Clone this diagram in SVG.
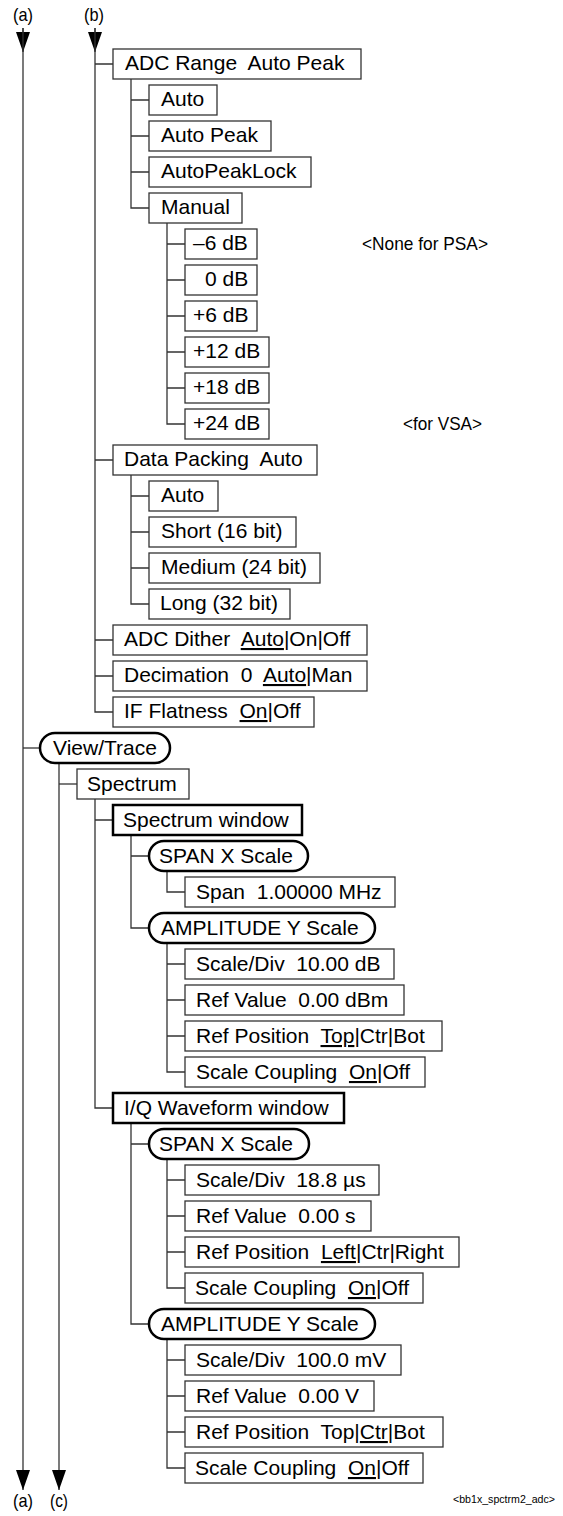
<svg xmlns="http://www.w3.org/2000/svg" width="563" height="1516" viewBox="0 0 563 1516">
<style>
.b{fill:#fff;stroke:#333;stroke-width:1.3}
.k{fill:#fff;stroke:#000;stroke-width:2.5}
.c{fill:none;stroke:#333;stroke-width:1.3}
text{font-family:"Liberation Sans",Arial,Helvetica,sans-serif;fill:#000;white-space:pre}
.l{font-size:21px}
.n{font-family:"Liberation Sans Narrow","Liberation Sans",Arial,sans-serif;font-size:19px}
.u{text-decoration:underline}
</style>
<defs>
<marker id="ah" viewBox="0 0 20 14" refX="20" refY="7" markerWidth="20" markerHeight="14" markerUnits="userSpaceOnUse" orient="auto">
<path d="M0,0 L20,7 L0,14 Z" fill="#000"/>
</marker>
</defs>
<g id="connectors">
<path class="c" d="M23,28 V52" marker-end="url(#ah)"/>
<path class="c" d="M23,28 V1490" marker-end="url(#ah)"/>
<path class="c" d="M23,748 H40"/>
<path class="c" d="M95,28 V52" marker-end="url(#ah)"/>
<path class="c" d="M95,28 V712 H113 M95,64 H113 M95,460 H113 M95,640 H113 M95,676 H113"/>
<path class="c" d="M131,79 V208 H149 M131,100 H149 M131,136 H149 M131,172 H149"/>
<path class="c" d="M167,223 V424 H185 M167,244 H185 M167,280 H185 M167,316 H185 M167,352 H185 M167,388 H185"/>
<path class="c" d="M131,475 V604 H149 M131,496 H149 M131,532 H149 M131,568 H149"/>
<path class="c" d="M59,763 V1490" marker-end="url(#ah)"/>
<path class="c" d="M59,784 H77"/>
<path class="c" d="M95,799 V1108 H113 M95,820 H113"/>
<path class="c" d="M131,835 V928 H149 M131,856 H149"/>
<path class="c" d="M167,871 V892 H185"/>
<path class="c" d="M167,943 V1072 H185 M167,964 H185 M167,1000 H185 M167,1036 H185"/>
<path class="c" d="M131,1123 V1324 H149 M131,1144 H149"/>
<path class="c" d="M167,1159 V1288 H185 M167,1180 H185 M167,1216 H185 M167,1252 H185"/>
<path class="c" d="M167,1339 V1468 H185 M167,1360 H185 M167,1396 H185 M167,1432 H185"/>
</g>
<g id="labels">
<text class="n" x="13" y="21" textLength="20" lengthAdjust="spacingAndGlyphs">(a)</text>
<text class="n" x="84" y="21" textLength="20" lengthAdjust="spacingAndGlyphs">(b)</text>
<text class="n" x="13" y="1507" textLength="20" lengthAdjust="spacingAndGlyphs">(a)</text>
<text class="n" x="50" y="1507" textLength="18" lengthAdjust="spacingAndGlyphs">(c)</text>
<text class="n" x="362" y="250" textLength="126" lengthAdjust="spacingAndGlyphs">&lt;None for PSA&gt;</text>
<text class="n" x="403" y="430" textLength="79" lengthAdjust="spacingAndGlyphs">&lt;for VSA&gt;</text>
<text class="n" x="453" y="1503" style="font-size:11px" textLength="102" lengthAdjust="spacingAndGlyphs">&lt;bb1x_spctrm2_adc&gt;</text>
</g>
<g id="adc-range"><rect class="b" x="113" y="49" width="248" height="30"/><text class="l" x="125" y="70">ADC Range  Auto Peak</text></g>
<g id="adc-auto"><rect class="b" x="149" y="85" width="68" height="30"/><text class="l" x="161" y="106">Auto</text></g>
<g id="adc-autopeak"><rect class="b" x="149" y="121" width="122" height="30"/><text class="l" x="161" y="142">Auto Peak</text></g>
<g id="adc-autopeaklock"><rect class="b" x="149" y="157" width="162" height="30"/><text class="l" x="161" y="178">AutoPeakLock</text></g>
<g id="adc-manual"><rect class="b" x="149" y="193" width="93" height="30"/><text class="l" x="161" y="214">Manual</text></g>
<g id="db-m6"><rect class="b" x="185" y="229" width="72" height="30"/><text class="l" x="193" y="250">–6 dB</text></g>
<g id="db-0"><rect class="b" x="185" y="265" width="72" height="30"/><text class="l" x="205" y="286">0 dB</text></g>
<g id="db-p6"><rect class="b" x="185" y="301" width="72" height="30"/><text class="l" x="193" y="322">+6 dB</text></g>
<g id="db-p12"><rect class="b" x="185" y="337" width="84" height="30"/><text class="l" x="193" y="358">+12 dB</text></g>
<g id="db-p18"><rect class="b" x="185" y="373" width="84" height="30"/><text class="l" x="193" y="394">+18 dB</text></g>
<g id="db-p24"><rect class="b" x="185" y="409" width="84" height="30"/><text class="l" x="193" y="430">+24 dB</text></g>
<g id="data-packing"><rect class="b" x="113" y="445" width="204" height="30"/><text class="l" x="124" y="466">Data Packing  Auto</text></g>
<g id="dp-auto"><rect class="b" x="149" y="481" width="69" height="30"/><text class="l" x="161" y="502">Auto</text></g>
<g id="dp-short"><rect class="b" x="149" y="517" width="147" height="30"/><text class="l" x="161" y="538">Short (16 bit)</text></g>
<g id="dp-medium"><rect class="b" x="149" y="553" width="171" height="30"/><text class="l" x="161" y="574">Medium (24 bit)</text></g>
<g id="dp-long"><rect class="b" x="149" y="589" width="141" height="30"/><text class="l" x="160" y="610">Long (32 bit)</text></g>
<g id="adc-dither"><rect class="b" x="113" y="625" width="254" height="30"/><text class="l" x="124" y="646">ADC Dither  <tspan class="u">Auto</tspan>|On|Off</text></g>
<g id="decimation"><rect class="b" x="113" y="661" width="254" height="30"/><text class="l" x="124" y="682">Decimation  0  <tspan class="u">Auto</tspan>|Man</text></g>
<g id="if-flatness"><rect class="b" x="113" y="697" width="201" height="30"/><text class="l" x="124" y="718">IF Flatness  <tspan class="u">On</tspan>|Off</text></g>
<g id="view-trace"><rect class="k" x="40" y="733" width="130" height="30" rx="15"/><text class="l" x="53" y="755">View/Trace</text></g>
<g id="spectrum"><rect class="b" x="77" y="769" width="112" height="30"/><text class="l" x="87" y="791">Spectrum</text></g>
<g id="spectrum-window"><rect class="k" x="113" y="805" width="189" height="30"/><text class="l" x="123" y="827">Spectrum window</text></g>
<g id="sw-span"><rect class="k" x="149" y="841" width="159" height="30" rx="15"/><text class="l" x="159" y="863">SPAN X Scale</text></g>
<g id="sw-span-val"><rect class="b" x="185" y="877" width="210" height="30"/><text class="l" x="196" y="899">Span  1.00000 MHz</text></g>
<g id="sw-amp"><rect class="k" x="149" y="913" width="226" height="30" rx="15"/><text class="l" x="161" y="935">AMPLITUDE Y Scale</text></g>
<g id="sw-scalediv"><rect class="b" x="185" y="949" width="209" height="30"/><text class="l" x="196" y="971">Scale/Div  10.00 dB</text></g>
<g id="sw-refvalue"><rect class="b" x="185" y="985" width="219" height="30"/><text class="l" x="196" y="1007">Ref Value  0.00 dBm</text></g>
<g id="sw-refpos"><rect class="b" x="185" y="1021" width="257" height="30"/><text class="l" x="196" y="1043">Ref Position  <tspan class="u">Top</tspan>|Ctr|Bot</text></g>
<g id="sw-coupling"><rect class="b" x="185" y="1057" width="240" height="30"/><text class="l" x="196" y="1079">Scale Coupling  <tspan class="u">On</tspan>|Off</text></g>
<g id="iq-window"><rect class="k" x="113" y="1093" width="231" height="30"/><text class="l" x="124" y="1115">I/Q Waveform window</text></g>
<g id="iq-span"><rect class="k" x="149" y="1129" width="160" height="30" rx="15"/><text class="l" x="159" y="1151">SPAN X Scale</text></g>
<g id="iq-scalediv-x"><rect class="b" x="185" y="1165" width="194" height="30"/><text class="l" x="196" y="1187">Scale/Div  18.8 µs</text></g>
<g id="iq-refvalue-x"><rect class="b" x="185" y="1201" width="186" height="30"/><text class="l" x="196" y="1223">Ref Value  0.00 s</text></g>
<g id="iq-refpos-x"><rect class="b" x="185" y="1237" width="274" height="30"/><text class="l" x="196" y="1259">Ref Position  <tspan class="u">Left</tspan>|Ctr|Right</text></g>
<g id="iq-coupling-x"><rect class="b" x="185" y="1273" width="238" height="30"/><text class="l" x="195" y="1295">Scale Coupling  <tspan class="u">On</tspan>|Off</text></g>
<g id="iq-amp"><rect class="k" x="149" y="1309" width="226" height="30" rx="15"/><text class="l" x="161" y="1331">AMPLITUDE Y Scale</text></g>
<g id="iq-scalediv-y"><rect class="b" x="185" y="1345" width="216" height="30"/><text class="l" x="196" y="1367">Scale/Div  100.0 mV</text></g>
<g id="iq-refvalue-y"><rect class="b" x="185" y="1381" width="189" height="30"/><text class="l" x="196" y="1403">Ref Value  0.00 V</text></g>
<g id="iq-refpos-y"><rect class="b" x="185" y="1417" width="258" height="30"/><text class="l" x="196" y="1439">Ref Position  Top|<tspan class="u">Ctr</tspan>|Bot</text></g>
<g id="iq-coupling-y"><rect class="b" x="185" y="1453" width="238" height="30"/><text class="l" x="195" y="1475">Scale Coupling  <tspan class="u">On</tspan>|Off</text></g>
</svg>
